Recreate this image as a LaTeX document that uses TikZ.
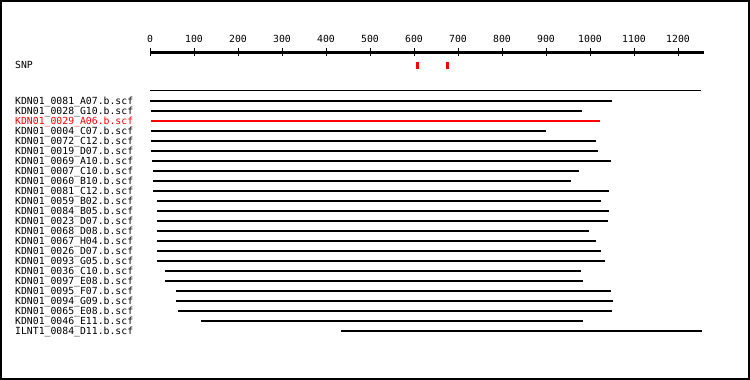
\documentclass[tikz,border=0pt]{standalone}
\usepackage{fontspec}
\newfontfamily\monofont{DejaVu Sans Mono}
\usepackage{tikz}
\usetikzlibrary{positioning}

\tikzset{
  declare function={bp(\b)=150+0.44*\b;},
  readlab/.style={anchor=base west, inner sep=0pt, font=\monofont\fontsize{9.8}{10}\selectfont},
  ticklab/.style={anchor=base, inner sep=0pt, font=\monofont\fontsize{9.8}{10}\selectfont},
  readline/.style={line width=2.2pt},
}

\begin{document}
\begin{tikzpicture}[x=1pt,y=-1pt]
  \useasboundingbox (0,0) rectangle (750,380);
  \draw[line width=2pt] (1,1) rectangle (749,379);

  % ruler
  \draw[line width=3pt] ({bp(0)},52) -- ({bp(1258)},52);
  \foreach \t in {0,100,...,1200} {
    \draw[line width=1pt] ({bp(\t)},48) -- ({bp(\t)},55.5);
    \node[ticklab] (tick\t) at ({bp(\t)},42.5) {\t};
  }

  % SNP track
  \node[readlab] (snp) at (15,68.5) {SNP};
  \fill[red] ({bp(604.5)},62) rectangle ({bp(611.5)},69);
  \fill[red] ({bp(672.5)},62) rectangle ({bp(679.5)},69);

  % consensus
  \draw[line width=1pt] ({bp(0)},90.5) -- ({bp(1252)},90.5);

  % reads
  \foreach [count=\i from 0] \name/\from/\to/\col in {
      KDN01\_0081\_A07.b.scf/0/1050/black,
      KDN01\_0028\_G10.b.scf/2/982/black,
      KDN01\_0029\_A06.b.scf/2/1023/red,
      KDN01\_0004\_C07.b.scf/2/900/black,
      KDN01\_0072\_C12.b.scf/2/1014/black,
      KDN01\_0019\_D07.b.scf/2/1018/black,
      KDN01\_0069\_A10.b.scf/5/1048/black,
      KDN01\_0007\_C10.b.scf/7/975/black,
      KDN01\_0060\_B10.b.scf/7/957/black,
      KDN01\_0081\_C12.b.scf/7/1043/black,
      KDN01\_0059\_B02.b.scf/16/1025/black,
      KDN01\_0084\_B05.b.scf/16/1043/black,
      KDN01\_0023\_D07.b.scf/16/1041/black,
      KDN01\_0068\_D08.b.scf/16/998/black,
      KDN01\_0067\_H04.b.scf/16/1014/black,
      KDN01\_0026\_D07.b.scf/16/1025/black,
      KDN01\_0093\_G05.b.scf/16/1034/black,
      KDN01\_0036\_C10.b.scf/34/980/black,
      KDN01\_0097\_E08.b.scf/34/984/black,
      KDN01\_0095\_F07.b.scf/59/1048/black,
      KDN01\_0094\_G09.b.scf/59/1052/black,
      KDN01\_0065\_E08.b.scf/64/1050/black,
      KDN01\_0046\_E11.b.scf/116/984/black,
      ILNT1\_0084\_D11.b.scf/434/1255/black} {
    \node[readlab, text=\col] (read\i) at (15,{104+10*\i}) {\name};
    \draw[readline, \col] ({bp(\from)},{101+10*\i}) -- ({bp(\to)},{101+10*\i});
  }
\end{tikzpicture}
\end{document}
